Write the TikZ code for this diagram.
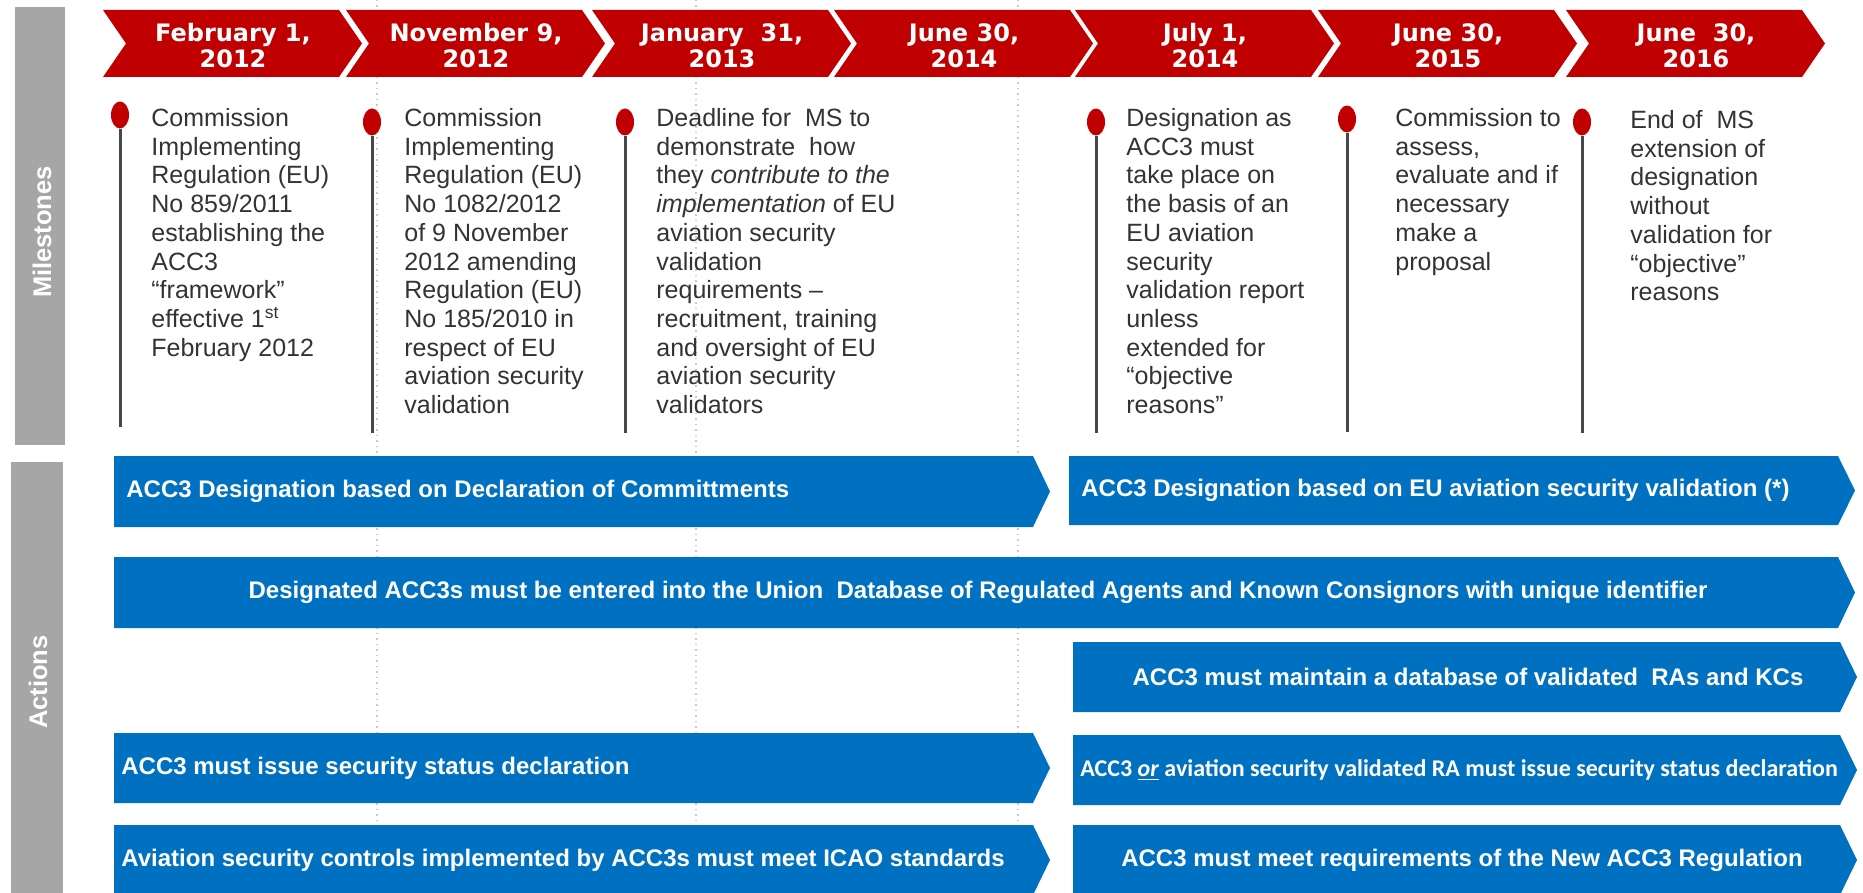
\documentclass[tikz,border=0pt]{standalone}
\usepackage{fontspec}
\setmainfont{Liberation Sans}
\newfontfamily\datefont{DejaVu Sans}
\newfontfamily\calfont{Carlito}
\usetikzlibrary{shapes.geometric}
\definecolor{accred}{HTML}{C00000}
\definecolor{accblue}{HTML}{0070C0}
\definecolor{accgrey}{HTML}{A6A6A6}
\definecolor{acctext}{HTML}{333333}

\begin{document}
\begin{tikzpicture}[x=0.5pt,y=-0.5pt,
    datelabel/.style={text=white,font=\datefont\bfseries\fontsize{12}{13}\selectfont,align=center},
    mstext/.style={text=acctext,font=\fontsize{12.5}{14.35}\selectfont,align=left,anchor=north west,inner sep=0pt},
    bartext/.style={text=white,font=\bfseries\fontsize{12}{14}\selectfont,inner sep=0pt},
    sidelabel/.style={text=white,font=\bfseries\fontsize{12.75}{14}\selectfont,rotate=90,inner sep=0pt},
    pinhead/.style={ellipse,fill=accred,inner sep=0pt,minimum width=9pt,minimum height=13.5pt}]
\useasboundingbox (0,0) rectangle (1863,893);
\foreach \x in {377,696,1018}
    \draw[accgrey!60,dotted,line width=0.75pt] (\x,0) -- (\x,893);
\fill[accgrey] (15,7) rectangle (65,445);
\fill[accgrey] (11,462) rectangle (63,893);
\node[sidelabel] (milestones) at (42,232) {Milestones};
\node[sidelabel] (actions) at (38,682) {Actions};
\foreach \x/\d [count=\i] in {103/{February 1,\\2012},346/{November 9,\\2012},592/{January\ \ 31,\\2013},
        834/{June 30,\\2014},1075/{July 1,\\2014},1318/{June 30,\\2015},1566/{June\ \ 30,\\2016}} {
    \fill[accred] (\x,10) -- (\x+236,10) -- (\x+259,43.5) -- (\x+236,77) -- (\x,77) -- (\x+23,43.5) -- cycle;
    \node[datelabel] (date\i) at (\x+130,46) {\d};
}
\foreach \x/\y/\b [count=\i] in {120/115/427,372/122/433,625/122/433,1096/122/433,1347/119/432,1582/122/433} {
    \coordinate (pinend\i) at (\x,\b);
    \node[pinhead] (pin\i) at (\x,\y) {};
    \draw[acctext!90,line width=1.5pt] (pin\i.south) -- (pinend\i);
}
\node[mstext] (ms1) at (151,108) {Commission\\Implementing\\Regulation (EU)\\No 859/2011\\establishing the\\ACC3\\“framework”\\effective 1\textsuperscript{st}\\February 2012};
\node[mstext] (ms2) at (404,108) {Commission\\Implementing\\Regulation (EU)\\No 1082/2012\\of 9 November\\2012 amending\\Regulation (EU)\\No 185/2010 in\\respect of EU\\aviation security\\validation};
\node[mstext] (ms3) at (656,108) {Deadline for\ \ MS to\\demonstrate\ \ how\\they \textit{contribute to the}\\\textit{implementation} of EU\\aviation security\\validation\\requirements –\\recruitment, training\\and oversight of EU\\aviation security\\validators};
\node[mstext] (ms4) at (1126,108) {Designation as\\ACC3 must\\take place on\\the basis of an\\EU aviation\\security\\validation report\\unless\\extended for\\“objective\\reasons”};
\node[mstext] (ms5) at (1395,108) {Commission to\\assess,\\evaluate and if\\necessary\\make a\\proposal};
\node[mstext] (ms6) at (1630,110) {End of\ \ MS\\extension of\\designation\\without\\validation for\\“objective”\\reasons};
\foreach \xa/\xb/\ya/\yb in {114/1033/456/527,1069/1838/456/525,114/1838/557/628,1073/1840/642/712,
        114/1033/733/803,1073/1840/735/805,114/1033/825/895,1073/1840/825/895}
    \fill[accblue] (\xa,\ya) -- (\xb,\ya) -- (\xb+17,{(\ya+\yb)/2}) -- (\xb,\yb) -- (\xa,\yb) -- cycle;
\node[bartext,anchor=west] (act1) at (126,491) {ACC3 Designation based on Declaration of Committments};
\node[bartext,anchor=west] (act2) at (1081,490) {ACC3 Designation based on EU aviation security validation (*)};
\node[bartext] (act3) at (978,592) {Designated ACC3s must be entered into the Union\ \ Database of Regulated Agents and Known Consignors with unique identifier};
\node[bartext] (act4) at (1468,677) {ACC3 must maintain a database of validated\ \ RAs and KCs};
\node[bartext,anchor=west] (act5) at (121,768) {ACC3 must issue security status declaration};
\node[bartext,anchor=west,font=\calfont\bfseries\fontsize{12}{14}\selectfont] (act6) at (1080,770) {ACC3 \underline{\textit{or}} aviation security validated RA must issue security status declaration};
\node[bartext,anchor=west] (act7) at (121,860) {Aviation security controls implemented by ACC3s must meet ICAO standards};
\node[bartext] (act8) at (1462,860) {ACC3 must meet requirements of the New ACC3 Regulation};
\end{tikzpicture}
\end{document}
